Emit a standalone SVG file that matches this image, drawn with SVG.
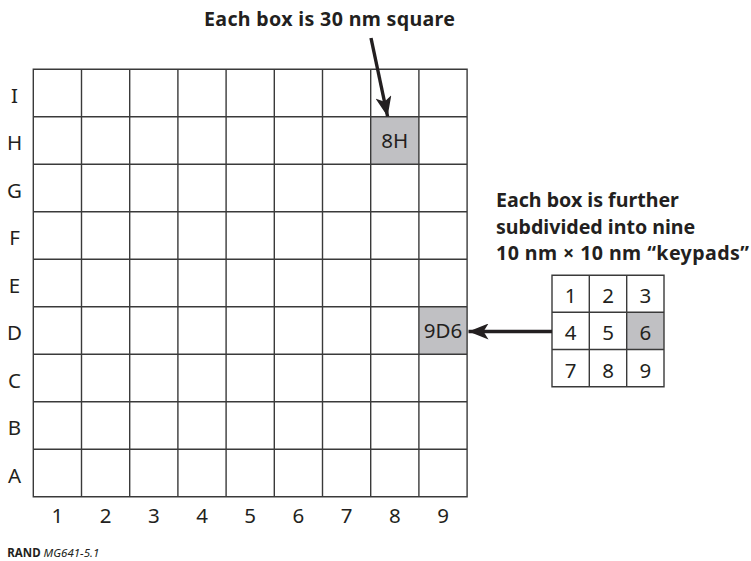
<svg xmlns="http://www.w3.org/2000/svg" width="751" height="561" viewBox="0 0 751 561">
<defs>
<style>
.t{font-family:"Noto Sans","Liberation Sans",sans-serif;fill:#231f20}
.lbl{font-size:20.5px;text-anchor:middle}
.hd{font-size:19.6px;font-weight:bold}
.grid{fill:none;stroke:#3a3a3a;stroke-width:1.4}
.hl{fill:#c0c0c3;stroke:none}
.arr{stroke:#231f20;stroke-width:3.4;fill:none}
</style>
<marker id="ah" markerUnits="userSpaceOnUse" markerWidth="22" markerHeight="16" refX="20" refY="8" orient="auto">
<path d="M0,0 L20,8 L0,16 L5,8 Z" fill="#231f20"/>
</marker>
</defs>
<rect width="751" height="561" fill="#fff"/>

<g id="title">
<text class="t hd" x="329.5" y="26" text-anchor="middle" font-size="20" textLength="251">Each box is 30 nm square</text>
</g>

<g id="note">
<text class="t hd" x="496" y="207.3">Each box is further</text>
<text class="t hd" x="496" y="233.5">subdivided into nine</text>
<text class="t hd" x="496" y="259.8" textLength="253">10 nm × 10 nm “keypads”</text>
</g>

<g id="cell-8H">
<rect class="hl" x="370.7" y="116.8" width="48.2" height="47.5"/>
<text class="t lbl" x="394.8" y="148">8H</text>
</g>
<g id="cell-9D6">
<rect class="hl" x="418.9" y="306.8" width="48.2" height="47.5"/>
<text class="t lbl" x="443" y="338">9D6</text>
</g>

<g id="grid">
<path class="grid" d="M33.3,69.3H467.1V496.8H33.3Z
M81.5,69.3V496.8 M129.7,69.3V496.8 M177.9,69.3V496.8 M226.1,69.3V496.8 M274.3,69.3V496.8 M322.5,69.3V496.8 M370.7,69.3V496.8 M418.9,69.3V496.8
M33.3,116.8H467.1 M33.3,164.3H467.1 M33.3,211.8H467.1 M33.3,259.3H467.1 M33.3,306.8H467.1 M33.3,354.3H467.1 M33.3,401.8H467.1 M33.3,449.3H467.1"/>
</g>

<g id="row-labels">
<text class="t lbl" x="14.5" y="102.5">I</text>
<text class="t lbl" x="14.5" y="150">H</text>
<text class="t lbl" x="14.5" y="197.5">G</text>
<text class="t lbl" x="14.5" y="245">F</text>
<text class="t lbl" x="14.5" y="292.5">E</text>
<text class="t lbl" x="14.5" y="340">D</text>
<text class="t lbl" x="14.5" y="387.5">C</text>
<text class="t lbl" x="14.5" y="435">B</text>
<text class="t lbl" x="14.5" y="482.5">A</text>
</g>

<g id="col-labels">
<text class="t lbl" x="57.4" y="523.3">1</text>
<text class="t lbl" x="105.6" y="523.3">2</text>
<text class="t lbl" x="153.8" y="523.3">3</text>
<text class="t lbl" x="202" y="523.3">4</text>
<text class="t lbl" x="250.2" y="523.3">5</text>
<text class="t lbl" x="298.4" y="523.3">6</text>
<text class="t lbl" x="346.6" y="523.3">7</text>
<text class="t lbl" x="394.8" y="523.3">8</text>
<text class="t lbl" x="443" y="523.3">9</text>
</g>

<g id="keypad">
<rect class="hl" x="626.7" y="312.3" width="37.3" height="37.2"/>
<path class="grid" d="M552,275.3H664V386.7H552Z M589.3,275.3V386.7 M626.7,275.3V386.7 M552,312.3H664 M552,349.5H664"/>
<text class="t lbl" x="570.7" y="303.3">1</text>
<text class="t lbl" x="608" y="303.3">2</text>
<text class="t lbl" x="645.3" y="303.3">3</text>
<text class="t lbl" x="570.7" y="340.4">4</text>
<text class="t lbl" x="608" y="340.4">5</text>
<text class="t lbl" x="645.3" y="340.4">6</text>
<text class="t lbl" x="570.7" y="377.6">7</text>
<text class="t lbl" x="608" y="377.6">8</text>
<text class="t lbl" x="645.3" y="377.6">9</text>
</g>

<g id="connectors">
<line class="arr" x1="371" y1="38" x2="387.6" y2="116.5" marker-end="url(#ah)"/>
<line class="arr" x1="552" y1="331.5" x2="468.5" y2="331.5" marker-end="url(#ah)"/>
</g>

<g id="footer">
<text class="t" x="7.3" y="556.5" font-size="11.5"><tspan font-weight="bold">RAND</tspan> <tspan font-style="italic">MG641-5.1</tspan></text>
</g>
</svg>
